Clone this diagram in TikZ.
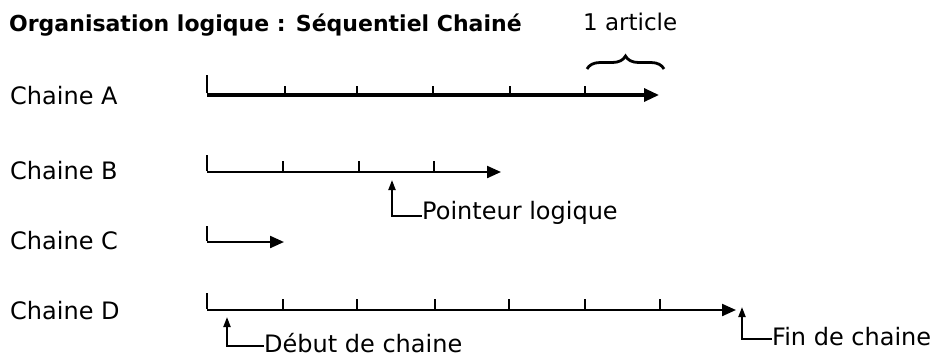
\documentclass[tikz,border=0pt]{standalone}
\usepackage{fontspec}
\setmainfont{DejaVu Sans}
\usetikzlibrary{arrows.meta,decorations.pathreplacing}
\begin{document}
\begin{tikzpicture}[x=1pt,y=-1pt,
  lbl/.style={anchor=west,inner sep=0pt,font=\fontsize{24}{27}\selectfont},
  txt/.style={anchor=base west,inner sep=0pt,font=\fontsize{24}{27}\selectfont},
  chain/.style={line width=2.2pt,-{Triangle[length=14pt,width=12pt]}},
  chainA/.style={line width=3.2pt,-{Triangle[length=15pt,width=13pt]}},
  tickmark/.style={line width=1.4pt},
  ptr/.style={line width=2pt,-{Triangle[length=10pt,width=7pt]}},
  ptrline/.style={line width=2pt}]
\useasboundingbox (0,0) rectangle (941,357);
% title
\node[anchor=base west,inner sep=0pt,font=\fontsize{22}{26}\selectfont\bfseries] (title) at (9,31) {Organisation logique : Séquentiel Chainé};
\node[anchor=base west,inner sep=0pt,font=\fontsize{23}{26}\selectfont] (art) at (583,30) {1 article};
\draw[decorate,decoration={brace,amplitude=13pt},line width=2.8pt] (587,69) -- (664,69);
% labels
\node[lbl] (la) at (10,96) {Chaine A};
\node[lbl] (lb) at (10,171) {Chaine B};
\node[lbl] (lc) at (10,241) {Chaine C};
\node[lbl] (ld) at (10,311) {Chaine D};
% chain A
\coordinate (a0) at (207,95); \coordinate (a1) at (659,95);
\draw[chainA] (a0) -- (a1);
\draw[line width=1.6pt] ([yshift=1.6pt]a0) -- ++(0,-18);
\foreach \x in {285,357,433,510,585} \draw[tickmark] (\x,95) -- ++(0,-9);
% chain B
\coordinate (b0) at (207,172); \coordinate (b1) at (501,172);
\draw[chain] (b0) -- (b1);
\draw[line width=1.6pt] ([yshift=1.1pt]b0) -- ++(0,-16);
\foreach \x in {283,359,434} \draw[tickmark] (\x,172) -- ++(0,-11);
\coordinate (pb) at (392,216); \coordinate (pt) at (392,180);
\draw[ptr] (pb) -- (pt);
\node[txt] (pl) at (422,219) {Pointeur logique};
\draw[ptrline] ([xshift=-1pt]pb) -- (pl.west |- pb);
% chain C
\coordinate (c0) at (207,242); \coordinate (c1) at (284,242);
\draw[chain] (c0) -- (c1);
\draw[line width=1.6pt] ([yshift=1.1pt]c0) -- ++(0,-15);
% chain D
\coordinate (d0) at (207,310); \coordinate (d1) at (736,310);
\draw[chain] (d0) -- (d1);
\draw[line width=1.6pt] ([yshift=1.1pt]d0) -- ++(0,-16);
\foreach \x in {283,357,435,509,585,660} \draw[tickmark] (\x,310) -- ++(0,-11);
\coordinate (db) at (227,346); \coordinate (dt) at (227,317);
\draw[ptr] (db) -- (dt);
\node[txt] (deb) at (264,352) {Début de chaine};
\draw[ptrline] ([xshift=-1pt]db) -- (deb.west |- db);
\coordinate (fb) at (742,339); \coordinate (ft) at (742,307);
\draw[ptr] (fb) -- (ft);
\node[txt] (fin) at (772,345) {Fin de chaine};
\draw[ptrline] ([xshift=-1pt]fb) -- (fin.west |- fb);
\end{tikzpicture}
\end{document}
